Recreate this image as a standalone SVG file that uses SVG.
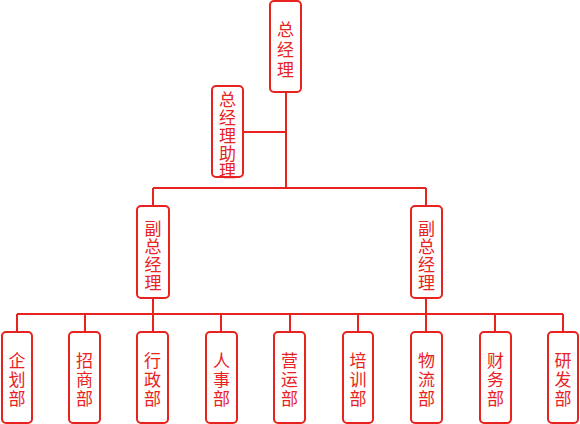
<svg xmlns="http://www.w3.org/2000/svg" width="580" height="424" viewBox="0 0 580 424">
<style>
.b{fill:#fff;stroke:#e8231f;stroke-width:2}
.t{fill:#e8231f;font-family:"Noto Sans CJK SC","Noto Sans",sans-serif;font-size:17px;text-anchor:middle;dominant-baseline:central}
.c{fill:none;stroke:#e8231f;stroke-width:2}
</style>
<rect width="580" height="424" fill="#fff"/>
<g id="connectors">
<path class="c" d="M286 92V188M243 132H286M153 188H426M153 188V206M426 188V206M153 298V314M17 314H563M17 314V332M85 314V332M153 314V332M221 314V332M290 314V332M358 314V332M426 298V332M495 314V332M563 314V332"/>
</g>
<g id="n_gm"><rect class="b" x="270" y="1" width="31" height="91" rx="4"/><text class="t"><tspan x="285.5" y="28">总</tspan><tspan x="285.5" y="48">经</tspan><tspan x="285.5" y="68">理</tspan></text></g>
<g id="n_asst"><rect class="b" x="212" y="86" width="31" height="91" rx="4"/><text class="t"><tspan x="227.5" y="98">总</tspan><tspan x="227.5" y="116">经</tspan><tspan x="227.5" y="134">理</tspan><tspan x="227.5" y="152">助</tspan><tspan x="227.5" y="169">理</tspan></text></g>
<g id="n_vgm1"><rect class="b" x="137" y="206" width="32" height="92" rx="4"/><text class="t"><tspan x="153" y="227">副</tspan><tspan x="153" y="245">总</tspan><tspan x="153" y="263">经</tspan><tspan x="153" y="281">理</tspan></text></g>
<g id="n_vgm2"><rect class="b" x="411" y="206" width="31" height="92" rx="4"/><text class="t"><tspan x="426.5" y="227">副</tspan><tspan x="426.5" y="245">总</tspan><tspan x="426.5" y="263">经</tspan><tspan x="426.5" y="281">理</tspan></text></g>
<g id="d1"><rect class="b" x="2" y="332" width="30" height="91" rx="4"/><text class="t"><tspan x="17" y="359">企</tspan><tspan x="17" y="378">划</tspan><tspan x="17" y="397">部</tspan></text></g>
<g id="d2"><rect class="b" x="69" y="332" width="31" height="91" rx="4"/><text class="t"><tspan x="84.5" y="359">招</tspan><tspan x="84.5" y="378">商</tspan><tspan x="84.5" y="397">部</tspan></text></g>
<g id="d3"><rect class="b" x="137" y="332" width="31" height="91" rx="4"/><text class="t"><tspan x="152.5" y="359">行</tspan><tspan x="152.5" y="378">政</tspan><tspan x="152.5" y="397">部</tspan></text></g>
<g id="d4"><rect class="b" x="206" y="332" width="31" height="91" rx="4"/><text class="t"><tspan x="221.5" y="359">人</tspan><tspan x="221.5" y="378">事</tspan><tspan x="221.5" y="397">部</tspan></text></g>
<g id="d5"><rect class="b" x="274" y="332" width="31" height="91" rx="4"/><text class="t"><tspan x="289.5" y="359">营</tspan><tspan x="289.5" y="378">运</tspan><tspan x="289.5" y="397">部</tspan></text></g>
<g id="d6"><rect class="b" x="343" y="332" width="30" height="91" rx="4"/><text class="t"><tspan x="358" y="359">培</tspan><tspan x="358" y="378">训</tspan><tspan x="358" y="397">部</tspan></text></g>
<g id="d7"><rect class="b" x="411" y="332" width="31" height="91" rx="4"/><text class="t"><tspan x="426.5" y="359">物</tspan><tspan x="426.5" y="378">流</tspan><tspan x="426.5" y="397">部</tspan></text></g>
<g id="d8"><rect class="b" x="480" y="332" width="31" height="91" rx="4"/><text class="t"><tspan x="495.5" y="359">财</tspan><tspan x="495.5" y="378">务</tspan><tspan x="495.5" y="397">部</tspan></text></g>
<g id="d9"><rect class="b" x="548" y="332" width="30" height="91" rx="4"/><text class="t"><tspan x="563" y="359">研</tspan><tspan x="563" y="378">发</tspan><tspan x="563" y="397">部</tspan></text></g>
</svg>
